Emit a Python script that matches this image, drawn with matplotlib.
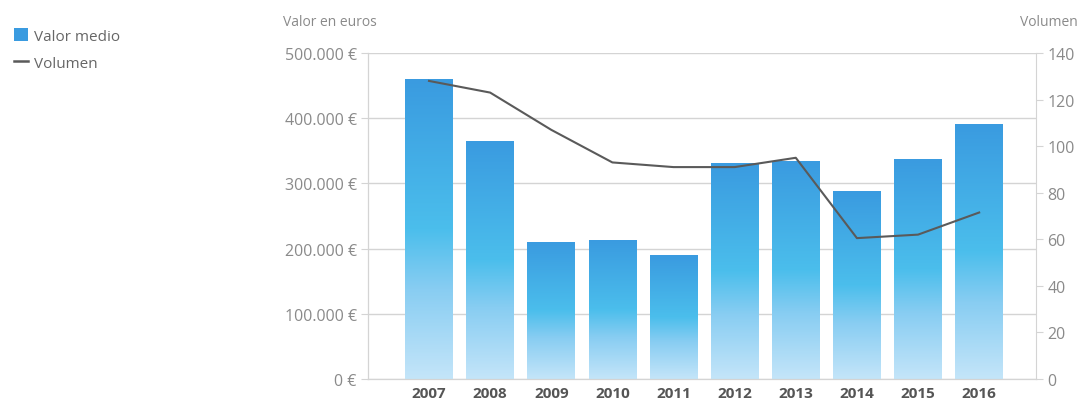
import numpy as np
import matplotlib
matplotlib.use("Agg")
import matplotlib.pyplot as plt
from matplotlib.colors import LinearSegmentedColormap
from matplotlib.lines import Line2D
from matplotlib.patches import Patch

years = ["2007", "2008", "2009", "2010", "2011", "2012", "2013", "2014", "2015", "2016"]
valor_medio = [459000, 365000, 210000, 213000, 190000, 330000, 333000, 287000, 337000, 390000]
volumen = [128, 123, 107, 93, 91, 91, 95, 60.5, 62, 71.5]
left_ticks = [0, 100000, 200000, 300000, 400000, 500000]
left_labels = ["0 €", "100.000 €", "200.000 €", "300.000 €", "400.000 €", "500.000 €"]
right_ticks = [0, 20, 40, 60, 80, 100, 120, 140]

plt.rcParams['font.family'] = ['Open Sans', 'DejaVu Sans']

grid_c = "#d4d4d4"
txt_c = "#8a8a8a"
bar_cmap = LinearSegmentedColormap.from_list(
    "barras", [(0.0, "#c4e5f9"), (0.3, "#88cdf2"), (0.5, "#4bbeec"), (1.0, "#3a9be0")])

fig = plt.figure(figsize=(10.82, 4.02), dpi=100)
ax = fig.add_axes([0.340, 0.0547, 0.6175, 0.811])
ax2 = ax.twinx()

x = np.arange(len(years))
w = 0.78
grad = np.linspace(0, 1, 256).reshape(-1, 1)
for xi, v in zip(x, valor_medio):
    ax.imshow(grad, cmap=bar_cmap, origin="lower", aspect="auto",
              extent=[xi - w / 2, xi + w / 2, 0, v], zorder=2)

ax.set_xlim(-1.0, 9.93)
ax.set_ylim(0, 500000)
ax.set_yticks(left_ticks)
ax.set_yticklabels(left_labels)
ax.set_xticks(x)
ax.set_xticklabels(years, fontsize=11, fontweight="bold", color="#555555")
ax.tick_params(axis="x", length=0, pad=5)
ax.tick_params(axis="y", length=5, color=grid_c, labelcolor=txt_c, labelsize=11.5, pad=3)
ax.grid(axis="y", color=grid_c, linewidth=1)
ax.set_axisbelow(True)

ax2.plot(x, volumen, color="#5a5a5a", linewidth=1.5, zorder=5)
ax2.set_ylim(0, 140)
ax2.set_yticks(right_ticks)
ax2.tick_params(axis="y", length=5, color=grid_c, labelcolor=txt_c, labelsize=11.5, pad=3)

for a in (ax, ax2):
    a.spines["top"].set_visible(False)
    for s in ("left", "right", "bottom"):
        a.spines[s].set_color(grid_c)
ax.spines["right"].set_visible(False)

fig.text(283 / 1082, 1 - 22 / 402, "Valor en euros", fontsize=10, color=txt_c, va="center", ha="left")
fig.text(1078 / 1082, 1 - 22 / 402, "Volumen", fontsize=10, color=txt_c, va="center", ha="right")

handles = [Patch(facecolor="#3a9be0", edgecolor="none"),
           Line2D([0], [0], color="#5a5a5a", linewidth=1.8)]
fig.legend(handles, ["Valor medio", "Volumen"], loc="upper left", bbox_to_anchor=(0.0, 0.963),
           frameon=False, fontsize=11, labelcolor="#666666", handlelength=0.9,
           handleheight=1.0, handletextpad=0.4, labelspacing=0.75)

fig.savefig("out.png", dpi=100)
